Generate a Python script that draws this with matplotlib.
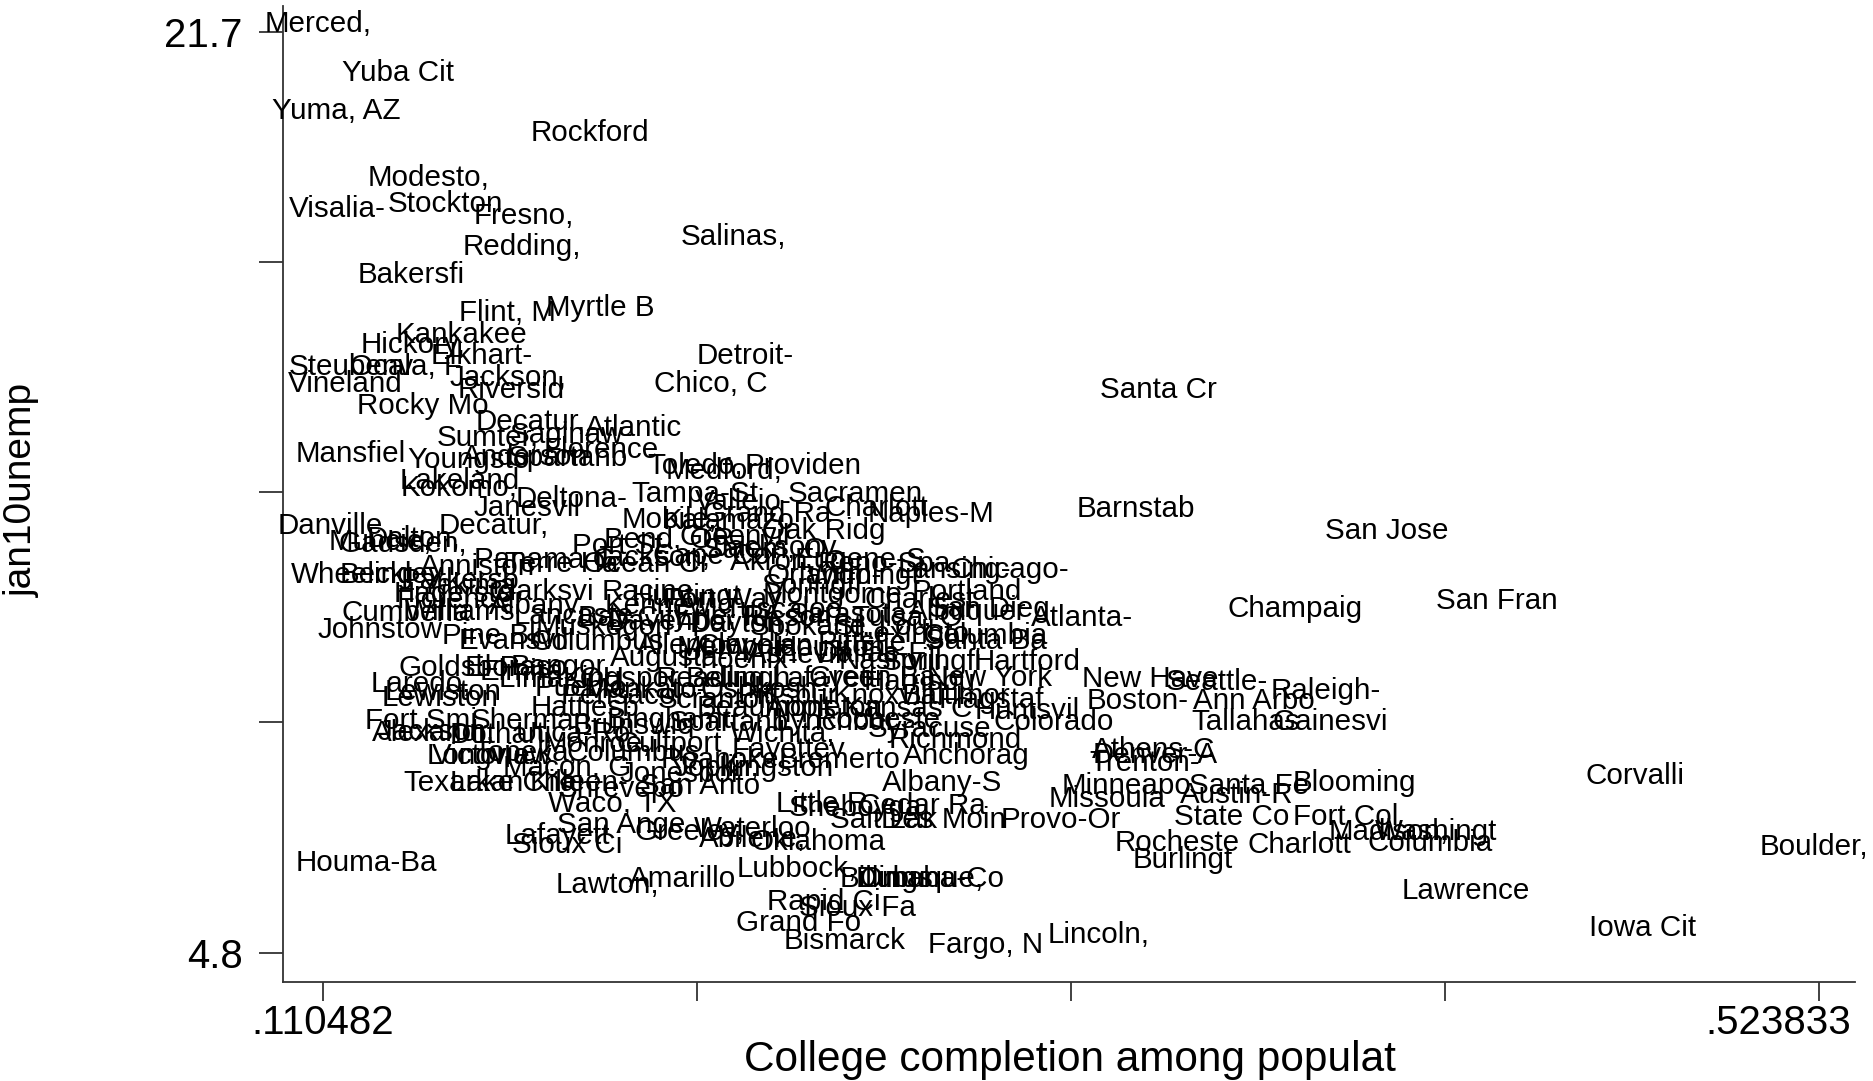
import matplotlib
matplotlib.use("Agg")
import matplotlib.pyplot as plt
import matplotlib.transforms as mtransforms
import numpy as np

plt.rcParams['font.family'] = ['Liberation Sans', 'DejaVu Sans']

# ---- data: metro label, college completion share, Jan-2010 unemployment ----
names = [
    "Merced,", "Yuba Cit", "Yuma, AZ", "Rockford", "Modesto,", "Visalia-", "Stockton", "Fresno,",
    "Salinas,", "Redding,", "Bakersfi", "Flint, M", "Myrtle B", "Kankakee", "Hickory,", "Elkhart-",
    "Steubenv", "Ocala, F", "Detroit-", "Vineland", "Jackson,", "Riversid", "Chico, C", "Santa Cr",
    "Rocky Mo", "Decatur,", "Atlantic", "Saginaw-", "Sumter,", "Mansfiel", "Youngsto", "Anderson",
    "Florence", "Spartanb", "Toledo,", "Providen", "Medford,", "Lakeland", "Kokomo,", "Deltona-",
    "Tampa-St", "Sacramen", "Vallejo-", "Janesvil", "Mobile,", "Kalamazo", "Grand Ra", "Charlott",
    "Naples-M", "Danville", "Decatur,", "Barnstab", "San Jose", "Oak Ridg", "Greenvil", "Jacksonv",
    "Gadsden,", "Muncie,", "Dalton,", "Wheeling", "Beckley,", "Anniston", "Parkersb", "Panama C",
    "Jackson,", "Akron, O", "Eugene-S", "Lansing-", "Chicago-", "Wilmingt", "Springfi", "Portland",
    "Montgome", "Hagersto", "Yakima,", "Clarksvi", "Racine,", "Huntingt", "Cumberla", "Johnstow",
    "Williams", "Pine Blu", "Lancaste", "Davenpor", "Erie, PA", "Tucson,", "San Dieg", "Atlanta-",
    "Champaig", "San Fran", "Spokane,", "Columbia", "Lexingto", "Santa Ba", "Pittsfie", "Clevelan",
    "Columbus", "Evansvil", "Allentow", "Ashevill", "Nashvill", "Springfi", "Hartford", "Augusta-",
    "Goldsbor", "El Paso,", "Bangor,", "Laredo,", "Lewiston", "Lewiston", "Pueblo,", "Reading,",
    "Bellingh", "Lafayett", "New York", "New Have", "Seattle-", "Raleigh-", "Boston-", "Ann Arbo",
    "Tallahas", "Gainesvi", "Athens-C", "Denver-A", "Trenton-", "Minneapo", "Missoula", "Santa Fe",
    "Austin-R", "Blooming", "State Co", "Fort Col", "Madison,", "Washingt", "Columbia", "Rocheste",
    "Charlott", "Burlingt", "Corvalli", "Boulder,", "Lawrence", "Iowa Cit", "Fort Smi", "Alexandr",
    "Jackson,", "Sherman-", "Dothan,", "Utica-Ro", "Victoria", "Longview", "Texarkan", "Lake Cha",
    "Killeen-", "Shrevepo", "San Anto", "Jonesbor", "Waco, TX", "Little R", "Cedar Ra", "Sheboyga",
    "Salt Lak", "Des Moin", "Provo-Or", "Albany-S", "Anchorag", "Bremerto", "Roanoke,", "Lafayett",
    "Sioux Ci", "San Ange", "Greeley,", "Waterloo", "Abilene,", "Oklahoma", "Lawton,", "Amarillo",
    "Lubbock,", "Billings", "Omaha-Co", "Dubuque,", "Rapid Ci", "Sioux Fa", "Grand Fo", "Bismarck",
    "Fargo, N", "Lincoln,", "Houma-Ba",
    "Tuscaloo", "Bay City", "Muskegon", "Fort Way", "Kennewic", "Dayton,", "Sarasota", "St. Loui",
    "Tulsa, O", "Syracuse", "Richmond", "Flagstaf", "Huntsvil", "Colorado", "Kansas C", "Wichita,",
    "Knoxvill", "Rocheste", "Beaumont", "Binghamt", "Brunswic", "Scranton", "Spartanb", "Lynchbur",
    "Pensacol", "Hattiesb", "Monroe,", "Columbus", "Macon, G", "Topeka,", "Gulfport", "Joplin,",
    "Kingston", "Fayettev", "Kingspor", "Lima, OH", "Mankato-", "Oshkosh-", "Appleton", "Green Ba",
    "Harrisbu", "Baltimor", "Dallas-F", "Houston-", "Phoenix-", "Albuquer", "Memphis,", "Charlest",
    "Reno-Spa", "Orlando-", "Pittsbur", "Elmira,", "Ocean Ci", "Salem, O", "Bend, OR", "Cape Cor",
    "Port St.", "Florence", "Terre Ha", "Albany,",
]

college = [
    0.1105, 0.1326, 0.1155, 0.1857, 0.1412, 0.1158, 0.1458, 0.1673,
    0.2253, 0.1669, 0.1362, 0.1630, 0.1884, 0.1501, 0.1369, 0.1557,
    0.1197, 0.1349, 0.2286, 0.1181, 0.1630, 0.1640, 0.2191, 0.3428,
    0.1395, 0.1692, 0.1976, 0.1805, 0.1574, 0.1197, 0.1521, 0.1679,
    0.1887, 0.1795, 0.2148, 0.2445, 0.2227, 0.1498, 0.1494, 0.1805,
    0.2148, 0.2590, 0.2280, 0.1683, 0.2075, 0.2240, 0.2346, 0.2649,
    0.2798, 0.1138, 0.1590, 0.3366, 0.4059, 0.2504, 0.2257, 0.2369,
    0.1339, 0.1277, 0.1369, 0.1201, 0.1316, 0.1547, 0.1498, 0.1729,
    0.2029, 0.2405, 0.2603, 0.2864, 0.3016, 0.2613, 0.2471, 0.2897,
    0.2527, 0.1481, 0.1531, 0.1722, 0.2029, 0.2125, 0.1349, 0.1277,
    0.1498, 0.1600, 0.1811, 0.2082, 0.2240, 0.2405, 0.2960, 0.3217,
    0.3804, 0.4362, 0.2471, 0.2950, 0.2752, 0.2950, 0.2610, 0.2313,
    0.1877, 0.1646, 0.2141, 0.2432, 0.2686, 0.2801, 0.3065, 0.2075,
    0.1494, 0.1663, 0.1778, 0.1389, 0.1442, 0.1450, 0.1844, 0.2201,
    0.2267, 0.2504, 0.2960, 0.3405, 0.3590, 0.3890, 0.3369, 0.3692,
    0.3669, 0.3903, 0.3415, 0.3419, 0.3389, 0.3339, 0.3286, 0.3679,
    0.3643, 0.3969, 0.3630, 0.3946, 0.4065, 0.4194, 0.4177, 0.3478,
    0.3818, 0.3494, 0.4745, 0.523833, 0.4276, 0.4765, 0.1389, 0.1415,
    0.1432, 0.1706, 0.1613, 0.1811, 0.1557, 0.1577, 0.1508, 0.1646,
    0.1828, 0.1943, 0.2161, 0.2108, 0.1917, 0.2498, 0.2775, 0.2590,
    0.2669, 0.2834, 0.3158, 0.2831, 0.2897, 0.2547, 0.2227, 0.1768,
    0.1795, 0.1943, 0.2131, 0.2306, 0.2306, 0.2488, 0.1904, 0.2112,
    0.2428, 0.2676, 0.2801, 0.2768, 0.2504, 0.2597, 0.2432, 0.2560,
    0.2950, 0.3263, 0.1240,
    0.2389, 0.1976, 0.1894, 0.2224, 0.2075, 0.2273, 0.2570, 0.2669,
    0.2735, 0.2795, 0.2867, 0.2966, 0.3065, 0.3138, 0.2735, 0.2389,
    0.2669, 0.2653, 0.2339, 0.2075, 0.1976, 0.2207, 0.2240, 0.2537,
    0.1943, 0.1844, 0.1877, 0.1976, 0.1795, 0.1679, 0.2075, 0.2207,
    0.2372, 0.2405, 0.1943, 0.1778, 0.2009, 0.2339, 0.2504, 0.2636,
    0.2768, 0.2867, 0.2636, 0.2537, 0.2273, 0.2900, 0.2273, 0.2768,
    0.2669, 0.2504, 0.2405, 0.1679, 0.2009, 0.2339, 0.2075, 0.2207,
    0.1943, 0.1481, 0.1778, 0.1712,
]

unemp = [
    21.70, 20.80, 20.10, 19.70, 18.87, 18.30, 18.39, 18.17,
    17.79, 17.60, 17.09, 16.39, 16.48, 15.99, 15.80, 15.60,
    15.40, 15.40, 15.60, 15.09, 15.20, 14.98, 15.09, 14.98,
    14.68, 14.39, 14.28, 14.15, 14.11, 13.80, 13.69, 13.76,
    13.89, 13.73, 13.58, 13.58, 13.49, 13.32, 13.18, 12.99,
    13.08, 13.08, 12.92, 12.81, 12.59, 12.57, 12.70, 12.81,
    12.70, 12.48, 12.48, 12.79, 12.39, 12.39, 12.28, 12.09,
    12.15, 12.20, 12.24, 11.58, 11.58, 11.74, 11.47, 11.87,
    11.89, 11.82, 11.87, 11.67, 11.67, 11.56, 11.39, 11.28,
    11.21, 11.23, 11.39, 11.28, 11.28, 11.19, 10.88, 10.57,
    10.90, 10.46, 10.84, 10.73, 10.81, 10.79, 10.97, 10.79,
    10.97, 11.10, 10.64, 10.46, 10.51, 10.38, 10.33, 10.29,
    10.35, 10.38, 10.29, 10.11, 10.00, 9.98, 9.98, 10.07,
    9.87, 9.87, 9.89, 9.59, 9.32, 9.43, 9.52, 9.67,
    9.67, 9.67, 9.69, 9.67, 9.63, 9.45, 9.28, 9.28,
    8.88, 8.88, 8.38, 8.29, 8.14, 7.72, 7.48, 7.72,
    7.54, 7.76, 7.15, 7.15, 6.86, 6.86, 6.67, 6.67,
    6.62, 6.36, 7.89, 6.60, 5.79, 5.11, 8.90, 8.69,
    8.71, 8.90, 8.64, 8.66, 8.27, 8.27, 7.76, 7.76,
    7.76, 7.65, 7.72, 7.94, 7.39, 7.39, 7.35, 7.30,
    7.08, 7.08, 7.08, 7.76, 8.27, 8.18, 8.18, 6.80,
    6.62, 6.99, 6.86, 6.93, 6.73, 6.69, 5.90, 6.01,
    6.18, 6.01, 6.01, 6.01, 5.59, 5.48, 5.20, 4.87,
    4.80, 4.98, 6.29,
    10.95, 10.79, 10.64, 11.12, 11.01, 10.68, 10.86, 10.64,
    10.79, 8.75, 8.55, 9.30, 9.08, 8.88, 9.12, 8.66,
    9.37, 8.93, 9.15, 8.93, 8.82, 9.30, 8.86, 8.88,
    9.37, 9.15, 8.49, 8.31, 8.05, 8.31, 8.49, 8.05,
    8.05, 8.38, 9.67, 9.67, 9.48, 9.48, 9.15, 9.69,
    9.63, 9.37, 10.13, 10.24, 10.02, 10.90, 10.24, 11.12,
    11.78, 11.56, 9.37, 9.80, 11.78, 12.04, 12.22, 11.93,
    12.11, 11.12, 11.78, 11.01,
]

x_ticklabels = [".110482", "", "", "", ".523833"]
y_ticklabels = ["4.8", "", "", "", "21.7"]
x_title = "College completion among populat"
y_title = "jan10unemp"

# ---- figure ----
W, H = 1874, 1081
fig = plt.figure(figsize=(W / 100, H / 100), dpi=100)
ax = fig.add_axes([283 / W, 1 - 982 / H, (1855 - 283) / W, (982 - 6) / H])

xmin, xmax = 0.110482, 0.523833
ymin, ymax = 4.8, 21.7
ax.set_xlim(xmin - 0.0110, xmax + 0.0100)
ax.set_ylim(ymin - 0.54, ymax + 0.48)

ax.scatter(college, unemp, s=0, alpha=0)
for n, xv, yv in zip(names, college, unemp):
    ax.annotate(n, (xv, yv), xytext=(-5, 8), textcoords='offset pixels',
                ha='center', va='center', fontsize=21.3, color='black',
                annotation_clip=False)

ax.set_xticks(np.linspace(xmin, xmax, 5))
ax.set_xticklabels(x_ticklabels)
ax.set_yticks(np.linspace(ymin, ymax, 5))
ax.set_yticklabels(y_ticklabels)

for s in ['top', 'right']:
    ax.spines[s].set_visible(False)
for s in ['left', 'bottom']:
    ax.spines[s].set_color('#333333')
    ax.spines[s].set_linewidth(1.3)

ax.tick_params(axis='y', direction='out', length=17, width=1.3, color='#333333',
               labelsize=29, pad=12)
ax.tick_params(axis='x', direction='out', length=14, width=1.3, color='#333333',
               labelsize=29, pad=2)

# keep the last x tick label inside the figure, as in the reference
last = ax.get_xticklabels()[-1]
last.set_transform(last.get_transform() +
                   mtransforms.ScaledTranslation(-41 / 100, 0, fig.dpi_scale_trans))

fig.text(1070 / W, 1 - 1060 / H, x_title, ha='center', va='center', fontsize=30.5)
fig.text(22 / W, 1 - 490 / H, y_title, ha='center', va='center', fontsize=28,
         rotation=90)

fig.savefig("out.png", dpi=100, facecolor='white')
